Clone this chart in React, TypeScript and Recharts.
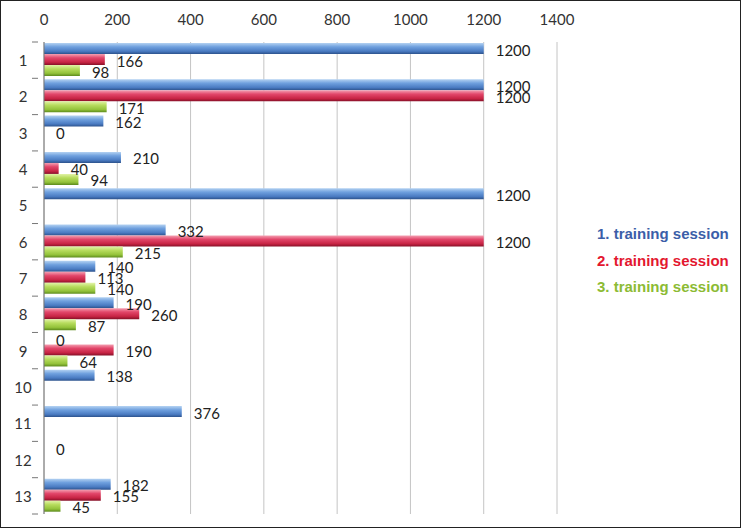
import { BarChart, Bar, XAxis, YAxis, CartesianGrid, LabelList } from 'recharts';

const categories = ['1', '2', '3', '4', '5', '6', '7', '8', '9', '10', '11', '12', '13'];
const session1 = [1200, 1200, 162, 210, 1200, 332, 140, 190, 0, 138, 376, 0, 182];
const session2 = [166, 1200, 0, 40, null, 1200, 113, 260, 190, null, null, null, 155];
const session3 = [98, 171, null, 94, null, 215, 140, 87, 64, null, null, null, 45];
const xTicks = [0, 200, 400, 600, 800, 1000, 1200, 1400];

const seriesNames = ['1. training session', '2. training session', '3. training session'];
const legendColors = ['#3b5ea8', '#e3172f', '#8cbb34'];

const data = categories.map((name, i) => ({
    name,
    s1: session1[i],
    s2: session2[i],
    s3: session3[i],
}));

const FONT = 'Lato, "Open Sans", sans-serif';
const CHART_W = 741;
const CHART_H = 528;
const MARGIN = { top: 12, right: 184, bottom: 14, left: 0 };
const X_AXIS_H = 30;
const BAND = (CHART_H - MARGIN.top - MARGIN.bottom - X_AXIS_H) / categories.length;

// zero values still need a (invisible) bar so their label is drawn
const minSize = (value: any) => (value === 0 ? 0.01 : 0);

const ValueLabel = (props: any) => {
    const { x, y, width, height, value } = props;
    if (value === null || value === undefined) return null;
    const w = value === 0 ? 0 : width;
    return (
        <text
            x={x + w + 12}
            y={y + height / 2 + 1}
            fontSize={15}
            fontFamily={FONT}
            fill="#222"
            dominantBaseline="central"
        >
            {value}
        </text>
    );
};

const CategoryTick = (props: any) => {
    const { x, y, payload, index } = props;
    return (
        <g>
            <line x1={x - 4} x2={x + 2} y1={y - BAND / 2} y2={y - BAND / 2} stroke="#777" />
            {index === categories.length - 1 && (
                <line x1={x - 4} x2={x + 2} y1={y + BAND / 2} y2={y + BAND / 2} stroke="#777" />
            )}
            <text x={23} y={y} textAnchor="middle" dominantBaseline="central" fontSize={15} fontFamily={FONT} fill="#333">
                {payload.value}
            </text>
        </g>
    );
};

export default function App() {
    return (
        <div style={{ position: 'absolute', left: 0, top: 0, width: CHART_W, height: CHART_H, background: '#fff', border: '1px solid #222', boxSizing: 'border-box', overflow: 'hidden' }}>
            <div style={{ position: 'absolute', left: -1, top: -1 }}>
                <BarChart
                    width={CHART_W}
                    height={CHART_H}
                    data={data}
                    layout="vertical"
                    margin={MARGIN}
                    barCategoryGap={1}
                    barGap={0}
                >
                    <defs>
                        <linearGradient id="gBlue" x1="0" y1="0" x2="0" y2="1">
                            <stop offset="0%" stopColor="#b4d2f2" />
                            <stop offset="35%" stopColor="#6fa0de" />
                            <stop offset="75%" stopColor="#4a7bc2" />
                            <stop offset="100%" stopColor="#2c528c" />
                        </linearGradient>
                        <linearGradient id="gRed" x1="0" y1="0" x2="0" y2="1">
                            <stop offset="0%" stopColor="#f4a0b2" />
                            <stop offset="35%" stopColor="#e2466a" />
                            <stop offset="75%" stopColor="#c72444" />
                            <stop offset="100%" stopColor="#861028" />
                        </linearGradient>
                        <linearGradient id="gGreen" x1="0" y1="0" x2="0" y2="1">
                            <stop offset="0%" stopColor="#e2f3a8" />
                            <stop offset="35%" stopColor="#b7dc5e" />
                            <stop offset="75%" stopColor="#93c23a" />
                            <stop offset="100%" stopColor="#5c8a1c" />
                        </linearGradient>
                    </defs>
                    <CartesianGrid horizontal={false} stroke="#c4c4c4" />
                    <XAxis
                        type="number"
                        orientation="top"
                        domain={[0, 1400]}
                        ticks={xTicks}
                        height={X_AXIS_H}
                        axisLine={false}
                        tickLine={false}
                        tickSize={0}
                        tickMargin={17}
                        interval={0}
                        tick={{ fontSize: 15, fontFamily: FONT, fill: '#333' }}
                    />
                    <YAxis
                        type="category"
                        dataKey="name"
                        width={44}
                        axisLine={{ stroke: '#777' }}
                        tickLine={false}
                        interval={0}
                        tick={<CategoryTick />}
                    />
                    <Bar dataKey="s1" name={seriesNames[0]} fill="url(#gBlue)" minPointSize={minSize} isAnimationActive={false}>
                        <LabelList dataKey="s1" content={<ValueLabel />} />
                    </Bar>
                    <Bar dataKey="s2" name={seriesNames[1]} fill="url(#gRed)" minPointSize={minSize} isAnimationActive={false}>
                        <LabelList dataKey="s2" content={<ValueLabel />} />
                    </Bar>
                    <Bar dataKey="s3" name={seriesNames[2]} fill="url(#gGreen)" minPointSize={minSize} isAnimationActive={false}>
                        <LabelList dataKey="s3" content={<ValueLabel />} />
                    </Bar>
                </BarChart>
            </div>
            <div style={{ position: 'absolute', left: 596, top: 220, fontFamily: '"Liberation Sans", Arial, sans-serif', fontWeight: 700, fontSize: 15, lineHeight: '26.5px' }}>
                {seriesNames.map((n, i) => (
                    <div key={n} style={{ color: legendColors[i] }}>{n}</div>
                ))}
            </div>
        </div>
    );
}
